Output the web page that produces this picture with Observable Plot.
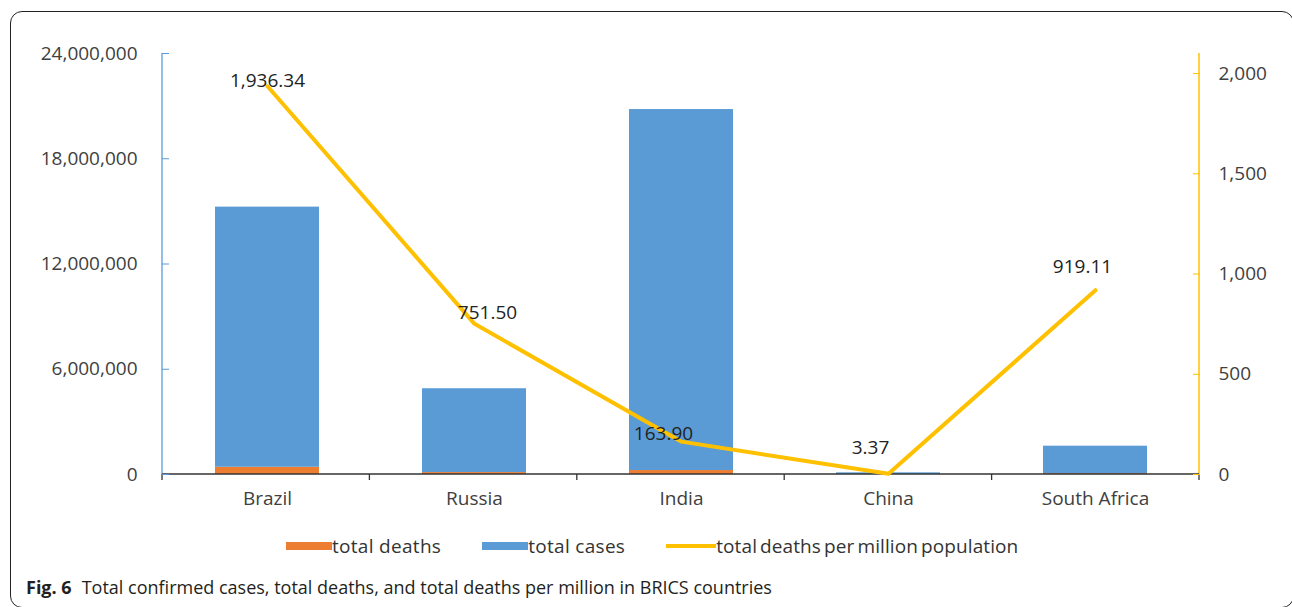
<!DOCTYPE html>
<html>
<head>
<meta charset="utf-8">
<script src="https://cdn.jsdelivr.net/npm/d3@7"></script>
<script src="https://cdn.jsdelivr.net/npm/@observablehq/plot@0.6"></script>
<style>
  html, body { margin: 0; padding: 0; background: #fff; }
  body { width: 1292px; height: 607px; position: relative; overflow: hidden; font-family: "Open Sans", sans-serif; }
  #frame { position: absolute; left: 10px; top: 11px; width: 1284px; height: 597px; border: 1.3px solid #222; border-radius: 12px; box-sizing: border-box; pointer-events: none; }
  #chart { position: absolute; left: 0; top: 0; }
  #legend { position: absolute; left: 286px; top: 533px; display: flex; align-items: center; font-size: 19px; letter-spacing: 0.3px; color: #333; white-space: nowrap; }
  #legend .item { display: flex; align-items: center; margin-right: 41px; }
  #legend .item:last-child { letter-spacing: 0.1px; word-spacing: -2px; }
  #legend .sw { width: 46px; height: 8px; }
  #legend .ln { width: 50px; height: 4px; }
  #caption { position: absolute; left: 26px; top: 575px; font-size: 18px; color: #231f20; white-space: nowrap; }
  #caption b { font-weight: 700; margin-right: 10px; }
</style>
</head>
<body>
<div id="chart"></div>
<div id="legend"></div>
<div id="caption"><b>Fig. 6</b>Total confirmed cases, total deaths, and total deaths per million in BRICS countries</div>
<div id="frame"></div>
<script>
// BRICS COVID-19 totals
const countries = ["Brazil", "Russia", "India", "China", "South Africa"];
const totalDeaths = [412000, 110000, 226000, 4600, 54500];
const totalCases = [14830000, 4780000, 20580000, 90700, 1560000];
const deathsPerMillion = [1936.34, 751.50, 163.90, 3.37, 919.11];

// axis ticks
const leftTicks = [0, 6000000, 12000000, 18000000, 24000000];
const rightTicks = [0, 500, 1000, 1500, 2000];
const leftMax = 24000000;
const rightMax = 2100;

const blue = "#5B9BD5", orange = "#ED7D31", gold = "#FFC000";
const textColor = "#404040";

// secondary axis is mapped onto the primary y scale
const k = leftMax / rightMax;

const rows = countries.map((c, i) => ({
  country: c,
  deaths: totalDeaths[i],
  cases: totalCases[i],
  dpm: deathsPerMillion[i]
}));

// small nudges for the value labels so they sit clear of the line
const labelNudge = [[0, -5], [13, -11], [-18, -8], [-18, -26], [-13, -23]];

// axis lines and category boundary ticks
function axisLines(index, scales, values, dims) {
  const {width, height, marginLeft, marginRight, marginTop, marginBottom} = dims;
  const x0 = marginLeft, x1 = width - marginRight;
  const yb = height - marginBottom, yt = marginTop;
  const g = d3.create("svg:g");
  g.append("line").attr("x1", x0).attr("x2", x0).attr("y1", yt).attr("y2", yb)
    .attr("stroke", blue).attr("stroke-width", 1.3);
  g.append("line").attr("x1", x1).attr("x2", x1).attr("y1", yt).attr("y2", yb)
    .attr("stroke", gold).attr("stroke-width", 1.5);
  g.append("line").attr("x1", x0).attr("x2", x1).attr("y1", yb).attr("y2", yb)
    .attr("stroke", "#333").attr("stroke-width", 1.5);
  const n = countries.length;
  for (let i = 0; i <= n; i++) {
    const x = x0 + i * (x1 - x0) / n;
    g.append("line").attr("x1", x).attr("x2", x).attr("y1", yb).attr("y2", yb + 6)
      .attr("stroke", "#333").attr("stroke-width", 1.3);
  }
  return g.node();
}

const chart = Plot.plot({
  width: 1292,
  height: 520,
  marginLeft: 162,
  marginRight: 93,
  marginTop: 53,
  marginBottom: 46,
  style: {fontFamily: '"Open Sans", sans-serif', fontSize: "19px", color: textColor, background: "transparent", overflow: "visible"},
  x: {type: "band", domain: countries, paddingInner: 0.5, paddingOuter: 0.25, label: null},
  y: {domain: [0, leftMax], label: null},
  marks: [
    Plot.barY(rows, {x: "country", y1: 0, y2: "deaths", fill: orange}),
    Plot.barY(rows, {x: "country", y1: "deaths", y2: d => d.deaths + d.cases, fill: blue}),
    axisLines,
    Plot.axisY(leftTicks, {anchor: "left", tickSize: -7, tickPadding: 32, stroke: blue, fill: textColor, tickFormat: d3.format(","), label: null}),
    Plot.axisY(rightTicks.map(v => v * k), {anchor: "right", tickSize: -7, tickPadding: 26, stroke: gold, fill: textColor, tickFormat: d => d3.format(",")(Math.round(d / k)), label: null}),
    Plot.axisX({tickSize: 0, tickPadding: 17, fill: textColor, label: null}),
    Plot.line(rows, {x: "country", y: d => d.dpm * k, stroke: gold, strokeWidth: 4, strokeLinejoin: "round"}),
    ...rows.map((r, i) => Plot.text([r], {
      x: "country",
      y: d => d.dpm * k,
      text: d => d3.format(",.2f")(d.dpm),
      dx: labelNudge[i][0],
      dy: labelNudge[i][1],
      fill: "#222"
    }))
  ]
});
document.getElementById("chart").append(chart);

// legend
const legendItems = [
  {label: "total deaths", color: orange, kind: "sw"},
  {label: "total cases", color: blue, kind: "sw"},
  {label: "total deaths per million population", color: gold, kind: "ln"}
];
const legend = d3.select("#legend");
legendItems.forEach(it => {
  const item = legend.append("div").attr("class", "item");
  item.append("span").attr("class", it.kind).style("background", it.color);
  item.append("span").text(it.label);
});
</script>
</body>
</html>
